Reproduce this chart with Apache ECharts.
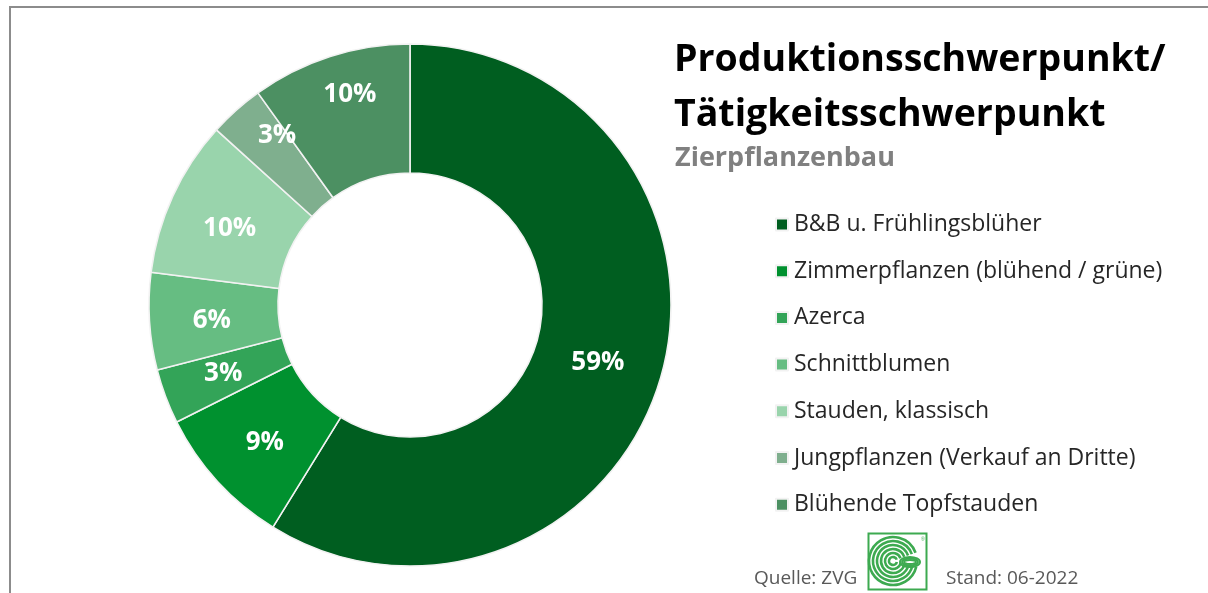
<!DOCTYPE html>
<html>
<head>
<meta charset="utf-8">
<script src="https://cdn.jsdelivr.net/npm/echarts@6/dist/echarts.min.js"></script>
<style>
html,body{margin:0;padding:0;background:#fff;}
#chart{width:1208px;height:593px;}
</style>
</head>
<body>
<div id="chart"></div>
<script>
var categories = ["B&B u. Frühlingsblüher","Zimmerpflanzen (blühend / grüne)","Azerca","Schnittblumen","Stauden, klassisch","Jungpflanzen (Verkauf an Dritte)","Blühende Topfstauden"];
var values = [58.8, 8.8, 3.4, 6.0, 9.7, 3.4, 9.9];
var colors = ["#005E20","#00912F","#33A458","#66BD82","#99D4AC","#7FAF8E","#4C9062"];
var labelOffsets = [[-4,3],[2,3],[0,-1],[1,3],[1,7],[0,-21],[1,-20]];
var titleLines = ["Produktionsschwerpunkt/","Tätigkeitsschwerpunkt"];
var subtitle = "Zierpflanzenbau";
var sourceText = "Quelle: ZVG";
var dateText = "Stand: 06-2022";

var FONT = "'Open Sans', sans-serif";
var chart = echarts.init(document.getElementById('chart'), null, {renderer:'canvas'});

var data = categories.map(function(c,i){
  return {name:c, value:values[i], itemStyle:{color:colors[i]}, label:{offset:labelOffsets[i]}};
});

var logoEls = [];
var lcx = 893, lcy = 561;
logoEls.push({type:'rect', shape:{x:868.5,y:533.5,width:58,height:56}, style:{fill:'#fff', stroke:'#3DAA50', lineWidth:2}});
[4,8,12,16,20,24].forEach(function(r){
  logoEls.push({type:'arc', shape:{cx:lcx, cy:lcy, r:r, startAngle:0.25, endAngle:-0.35, clockwise:true}, style:{fill:null, stroke:'#3DAA50', lineWidth:2.6}});
});
[[10,5],[8,3.5],[6,2]].forEach(function(e){
  logoEls.push({type:'ellipse', shape:{cx:lcx+17, cy:lcy+1, rx:e[0], ry:e[1]}, style:{fill:null, stroke:'#3DAA50', lineWidth:2}});
});
logoEls.push({type:'text', style:{x:921, y:537, text:'®', fontSize:5, fill:'#3DAA50', font:'5px sans-serif'}});

var option = {
  animation:false,
  backgroundColor:'#fff',
  legend:{
    orient:'vertical', left:775, top:213, padding:0,
    icon:'rect', itemWidth:12, itemHeight:12, itemGap:23.7,
    data:categories,
    textStyle:{fontFamily:FONT, fontSize:23, color:'#262626', lineHeight:23, padding:[0,0,0,1]}
  },
  series:[{
    type:'pie',
    center:[410,305],
    radius:[132,261],
    startAngle:90,
    clockwise:true,
    avoidLabelOverlap:false,
    itemStyle:{borderColor:'#F2F2F2', borderWidth:1.6},
    label:{
      show:true, position:'inside', color:'#fff', fontFamily:FONT, fontWeight:'bold', fontSize:26,
      formatter:function(p){return Math.round(p.percent)+'%';}
    },
    labelLine:{show:false},
    emphasis:{disabled:true},
    data:data
  }],
  graphic:[
    {type:'line', shape:{x1:10,y1:7,x2:1208,y2:7}, style:{stroke:'#8C8C8C', lineWidth:2}, z:10},
    {type:'line', shape:{x1:10,y1:6,x2:10,y2:593}, style:{stroke:'#8C8C8C', lineWidth:2}, z:10},
    {type:'text', left:674, top:41, style:{text:titleLines[0], font:'bold 37.5px '+FONT, fill:'#000'}},
    {type:'text', left:674, top:96, style:{text:titleLines[1], font:'bold 37.5px '+FONT, fill:'#000'}},
    {type:'text', left:675, top:145, style:{text:subtitle, font:'bold 27px '+FONT, fill:'#808080'}},
    {type:'text', left:754, top:569, style:{text:sourceText, font:'19px '+FONT, fill:'#595959'}},
    {type:'text', left:946, top:569, style:{text:dateText, font:'19px '+FONT, fill:'#595959'}},
    {type:'group', children:logoEls}
  ]
};
chart.setOption(option);
</script>
</body>
</html>
